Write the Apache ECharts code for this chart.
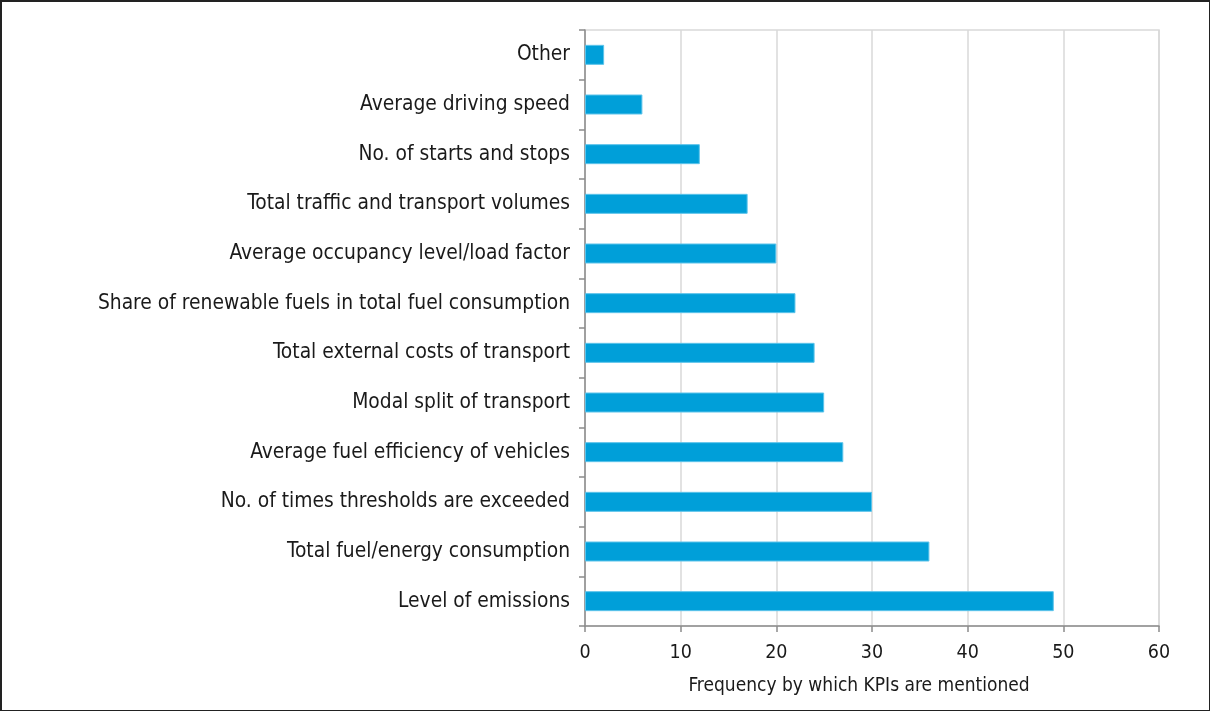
<!DOCTYPE html>
<html>
<head>
<meta charset="utf-8">
<script src="https://cdn.jsdelivr.net/npm/echarts@6/dist/echarts.min.js"></script>
<style>
  html, body { margin: 0; padding: 0; background: #fff; }
  #frame { position: absolute; left: 0; top: 0; width: 1210px; height: 711px; box-sizing: border-box; border: 2px solid #222; border-right-width: 1px; border-bottom-width: 1px; }
  #chart { position: absolute; left: 0; top: 0; width: 1210px; height: 711px; }
</style>
</head>
<body>
<div id="chart"></div>
<div id="frame"></div>
<script>
// KPI categories, listed bottom to top as drawn on the category axis
const categories = [
  'Level of emissions',
  'Total fuel/energy consumption',
  'No. of times thresholds are exceeded',
  'Average fuel efficiency of vehicles',
  'Modal split of transport',
  'Total external costs of transport',
  'Share of renewable fuels in total fuel consumption',
  'Average occupancy level/load factor',
  'Total traffic and transport volumes',
  'No. of starts and stops',
  'Average driving speed',
  'Other'
];
// How often each KPI is mentioned
const frequencies = [49, 36, 30, 27, 25, 24, 22, 20, 17, 12, 6, 2];
const axisTitle = 'Frequency by which KPIs are mentioned';

const chart = echarts.init(document.getElementById('chart'), null, { renderer: 'canvas' });
const font = 'DejaVu Sans Condensed';
chart.setOption({
  animation: false,
  backgroundColor: '#ffffff',
  grid: {
    left: 585, right: 51, top: 30, bottom: 85,
    show: true, borderColor: '#d9d9d9', borderWidth: 1.5
  },
  xAxis: {
    type: 'value',
    min: 0, max: 60, interval: 10,
    name: axisTitle,
    nameLocation: 'middle',
    nameGap: 51,
    nameTextStyle: { fontFamily: font, fontSize: 19, color: '#1a1a1a', padding: [0, 26, 0, 0] },
    axisLine: { show: true, lineStyle: { color: '#8c8c8c', width: 1.5 } },
    axisTick: { show: true, length: 6, lineStyle: { color: '#8c8c8c', width: 1.5 } },
    axisLabel: { fontFamily: font, fontSize: 19.5, color: '#1a1a1a', margin: 17 },
    splitLine: { show: true, lineStyle: { color: '#d9d9d9', width: 1.5 } }
  },
  yAxis: {
    type: 'category',
    data: categories,
    axisLine: { show: true, lineStyle: { color: '#8c8c8c', width: 1.5 } },
    axisTick: { show: true, length: 6, lineStyle: { color: '#8c8c8c', width: 1.5 } },
    axisLabel: { fontFamily: font, fontSize: 20.8, color: '#1a1a1a', margin: 15 },
    splitLine: { show: false }
  },
  series: [{
    type: 'bar',
    data: frequencies,
    barWidth: 20,
    itemStyle: { color: '#009fd9', borderColor: '#5cc3ea', borderWidth: 1 }
  }]
});
</script>
</body>
</html>
